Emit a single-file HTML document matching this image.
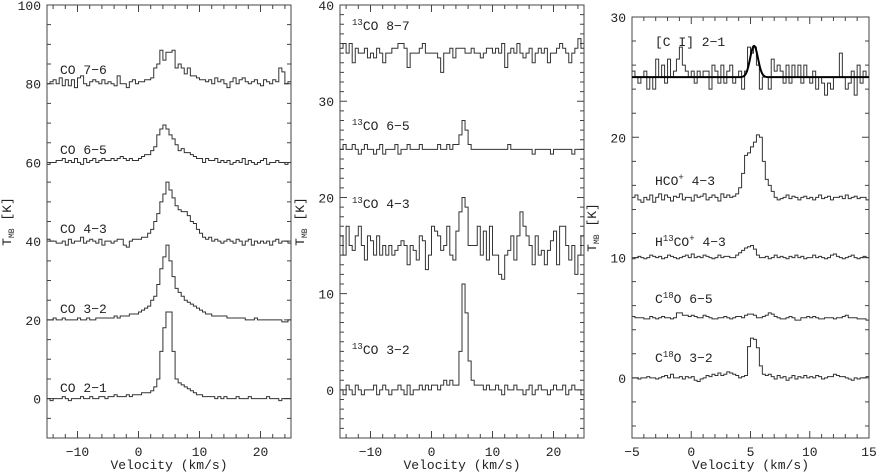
<!DOCTYPE html>
<html><head><meta charset="utf-8"><style>
html,body{margin:0;padding:0;background:#fff;}
svg{display:block;}
text{font-family:"Liberation Mono",monospace;fill:#222;}
</style></head><body>
<svg id="chart" width="876" height="473" viewBox="0 0 876 473" xmlns="http://www.w3.org/2000/svg"></svg>
<script>
// ---- Panel 1 data (CO), 0.5 km/s channels from -15 to 25 ----
const co76=[80,80.5,81,80,81.5,79.5,81,79.5,81,79, 81.5,82,80,79.5,80.5,81,80.5,80,81,80, 80.5,80,79.5,82,80,80,79,80.5,81,80, 80.5,80.5,81,81,81.5, 84,85,88.5,86,88, 88,88.5,84,85,84, 82.5,84,82,82,81.5, 81,81,80.5,81,80,81.5,80.5,81,80,79, 80.5,81.5,80,81,81.5,80.5,80,80.5,81,80, 79.5,81,80.5,80,81,80.5,84,83,80,80.5];
const co65=[59.5,60,60,60.5,60.5,61,60,60.5,60,61, 60,59.5,61,60,60.5,61,60,60.5,61,60.5, 60.5,61,60.5,61,61.5,61,60.5,61,60.5,60.5, 61,61.5,62,62,63, 64,67,68.5,69.5,68.5, 67,66,64.5,63,63.5, 62.5,62.5,62,61.5,61, 61,60,61,60.5,60.5,61,60,60.5,60,60.5, 59.5,60,60.5,60,61,59.5,60.5,60,59.5,60, 60.5,61,59.5,60,60,60.5,60,60,59.5,60];
const co43=[40.5,40,40,39.5,39.5,40,39,40.5,39.5,40, 40,41,39.5,40,40.5,40,39.5,40.5,39,40, 40,39.5,40,40.5,40.5,39,38.5,40,40.5,40.5, 40.5,41,41,42,43, 45,47,50,52,55, 53,51,49,48,47.5, 47.5,46.5,45,44.5,43, 42,41,40.5,41,40,40.5,40,39.5,40,40.5, 40,39.5,40.5,40,39,40,40.5,39,40,39.5, 40,39.5,40,39,40,40.5,39.5,40,40,39.5];
const co32=[20,20,20.5,20,20,20.5,20,20,20,20, 20.5,20,20,20.5,20,20,20.5,20.5,20.5,20.5, 20.5,20.5,21,20.5,21,21,21,21.5,21.5,21.5, 22,22.5,23,23.5,25, 26,29,33,36,39, 35,31,28,27,26, 25,24.5,24,23.5,23, 22.5,22,21.5,21.5,21,21,21,21,21,20.5, 20.5,20.5,20.5,20.5,20.5,20,20,20,20.5,20, 20,20,20,20,20,20,20,19.5,19.5,20];
const co21=[0,-0.5,0,0,0,0.5,0,-0.5,0,0, 0,0.5,0,0,0.5,0,0,0.5,0.5,0, 0.5,0.5,1,0.5,0.5,0.5,1,0.5,1,1, 1,1.5,1.5,1.5,2, 3,5,12,18,22, 22,12,5,4,3.5, 3,2.5,2,1.5,1, 1,0.5,0.5,0.5,0.5,0,0.5,0,0.5,0, 0,0,0.5,0,0,0,0.5,0,0,0, 0,0,0.5,0,0,0,-0.5,0,0,0];
// ---- Panel 2 data (13CO) ----
const c87=[35.5,36,35,36,34,35.5,35,35,35.5,34.5, 35,34.5,35.5,35,34,35,35,35.5,35.5,36, 36,35.5,33.5,35,35,35,35.5,36,35,35, 35,35,34.5,33,35,35,35.5,34.5,35.5,35.5, 35.5,35,35,35.5,35,35,34.5,35,35.5,35.5, 35,35.5,35,36,33.5,35,35.5,35,36,35, 34.5,35,35.5,34,35,35.5,35,35.5,34,35, 35,35.5,36,35.5,35,34,35,35.5,36.5,35.5];
const c65=[25,25.5,25,25,25.5,25,24.5,25,25.5,25, 25,24.5,25,25.5,24.5,25,25,25,25.5,24.5, 25,25,25.5,25,25,25,25.5,25,25,25, 25,25,25.5,25,25,25.5,25,25.5,25.5,26.5, 28,27,25.5,25,25,25,25,25,25,25, 25,25,25,25,25,25.5,25,25,25,25, 25,25,25,24.5,25,25,25,25,25,24.5, 25,25,25,25,25,25,24.5,25,25,25];
const c43=[16,14,17,15,14.5,16,17,15,13.5,16, 15.5,14,16,14,15,14,15,14,14.5,15, 15.5,15,13,15,14.5,13.5,16,15.5,12.5,14, 17,16.5,16,14.5,15,17,14,13.5,16.5,18.5, 20,19,15,15,15,17,14,16.5,13.5,17, 14,14,12,11.5,14,14.5,16,13.5,16,18.5, 17,16,15,13,16,14,14.5,13,14.5,15.5, 16.5,13,17,17,15,13.5,15,12,14,16];
const c32=[0,-0.5,0.5,0,-0.5,0.5,0,-0.5,0,0, 0,0.5,-0.5,0,0.5,0,-0.5,0,0,0.5, 0,-0.5,0.5,-0.5,0,0,0.5,0,0.5,0, 0.5,0.5,0,0.5,1,0.5,1,0.5,0.5,4, 11,8,3,1,0.5,0.5,0.5,0,0.5,0, 0,0.5,0,-0.5,0.5,0,0,0.5,0,0, -0.5,0,0.5,-0.5,0,0.5,0,0,-0.5,0, 0.5,0,0,0.5,-0.5,0,0.5,0,0,-0.5];
// ---- Panel 3 data, 0.25 km/s channels from -5 to 15 ----
const ci21=[25.5,25,24.5,25,25.5,24,25,24,26.5,25,26,24.5,26.5,25,25.5,26.5,27.5,26,25.5,25, 25.5,24.5,25.5,25,25.5,25.5,24,26,25.5,24.5,26,24.5,25.5,26,24.5,25,25.5,24,25.5,27.5, 27,27.5,26,24,25,25,24,26.5,25.5,26,25.5,24.5,26,24.5,26,25,26,24.5,26,25, 24.5,25.5,24,25,24.5,23.5,24.5,24,25,25,27,25,24,24.5,25.5,23.5,26,24.5,25.5,25];
const ciFit=[25,2.6,5.3,0.33]; // baseline, amplitude, center, sigma
const hco=[15,15.2,14.8,14.6,15,14.8,15.2,14.6,15,15.3,14.8,15.2,15,14.7,15.1,15,15.3,14.8,15,15, 14.7,15.2,15,15.1,15.3,14.8,15,15.2,15,14.7,15.3,15,15.2,15,15.1,15.3,15.8,17,18.5,18.7, 19.2,19.6,20.2,20,18,16.5,16,15.5,15,14.8,14.9,15,15.2,14.9,15.1,15,14.8,15,15.1,14.9, 15,14.8,15,15.2,14.9,15,15.1,14.8,15,15,15.1,14.9,15.2,14.9,15,15.1,14.9,15,15,14.8];
const h13co=[9.9,10,10.1,10,9.9,10,10.2,10.1,10,10.1,9.9,10,10.2,10.1,10,9.9,10,10.1,10.2,10, 10.3,10,10.1,10,10.2,10.1,10,9.9,10,10.2,10,10.1,10.1,10,10,10.2,10.4,10.6,10.8,10.9, 11,10.7,10.2,10,10,10.1,9.9,10,10.2,10,10.1,10,9.9,10.1,10,10.2,10,10.1,9.9,10, 10,10.2,10,10.1,10,9.9,10,10.2,10.3,10.1,10,9.9,10,10.1,10.2,10,9.9,10,10.1,10];
const c18o65=[5.1,5,5,5,4.9,4.9,5.1,5,4.9,5,5.1,5,5,4.9,5,5.4,5.4,5.2,5.2,5.1, 5.2,5.1,5,5,5.2,5.1,5,4.9,4.9,5,5,5.1,5,4.9,5,5.1,5.1,5,5.2,5.3, 5.3,5.2,5,5,5.1,5.2,5.4,5.3,5.1,5,4.9,4.9,5,5.1,5,4.8,4.8,5,5,5.1, 5,5.1,5,4.9,4.9,5,5,5,4.9,5,5,5.1,5.2,5,5,5,4.9,4.9,4.9,4.8];
const c18o32=[0,0,-0.1,0,0,0.1,0,0,-0.1,0,0.1,0.2,0,0.3,0,0,0.1,-0.1,0.1,0, 0.1,-0.2,-0.3,-0.1,0,0.2,0.1,0.3,0.2,0.4,0.2,0.3,0.5,0.4,0.3,0.2,0,0.1,0.2,2.6, 3.3,3.2,2.5,1,0.3,0.2,0.3,0.1,-0.1,0.2,0,0.1,-0.2,0,0.2,-0.1,0.1,0,0.2,0, 0.1,0,0.2,0.1,-0.1,0,0.1,0.1,0.3,0.2,0.1,0.1,0,-0.1,-0.2,0,-0.1,0,0,0.1];

const xTicks1=[-10,0,10,20], yTicks1=[0,20,40,60,80,100];
const xTicks2=[-10,0,10,20], yTicks2=[0,10,20,30,40];
const xTicks3=[-5,0,5,10,15], yTicks3=[0,10,20,30];

const NS='http://www.w3.org/2000/svg';
const svg=document.getElementById('chart');
function mk(tag,attrs,parent){const e=document.createElementNS(NS,tag);for(const k in attrs)e.setAttribute(k,attrs[k]);(parent||svg).appendChild(e);return e;}

function panel(id,box,xr,yr,xT,yT,xMinor,yMinor,series,labels){
  const g=mk('g',{});
  
  
  const sx=v=>box.l+(v-xr[0])/(xr[1]-xr[0])*(box.r-box.l);
  const sy=v=>box.b-(v-yr[0])/(yr[1]-yr[0])*(box.b-box.t);
  const fr=mk('rect',{x:box.l,y:box.t,width:box.r-box.l,height:box.b-box.t,fill:'none',stroke:'#444','stroke-width':1},g);
  
  
  let d='';
  for(let v=Math.ceil(xr[0]/xMinor)*xMinor;v<=xr[1]+1e-9;v+=xMinor){const x=sx(v);const big=xT.some(t=>Math.abs(t-v)<1e-9);const L=big?7:4;d+=`M${x} ${box.b}v${-L}M${x} ${box.t}v${L}`;}
  for(let v=Math.ceil(yr[0]/yMinor)*yMinor;v<=yr[1]+1e-9;v+=yMinor){const y=sy(v);const big=yT.some(t=>Math.abs(t-v)<1e-9);const L=big?7:4;d+=`M${box.l} ${y}h${L}M${box.r} ${y}h${-L}`;}
  const tk=mk('path',{d:d,stroke:'#444','stroke-width':1,fill:'none'},g);
  
  
  xT.forEach(v=>{const t=mk('text',{x:sx(v),y:box.b+18,'text-anchor':'middle','font-size':13},g);t.textContent=v<0?'\u2212'+(-v):String(v);
    
    });
  yT.forEach(v=>{const t=mk('text',{x:box.l-6,y:sy(v)+5,'text-anchor':'end','font-size':13},g);t.textContent=String(v);
    
    });
  const xt=mk('text',{x:(box.l+box.r)/2,y:469,'text-anchor':'middle','font-size':13},g);xt.textContent='Velocity (km/s)';
  
  
  const yx=box.l-36, yc=(box.t+box.b)/2;
  const yt=mk('text',{x:yx,y:yc,'text-anchor':'middle','font-size':13,transform:`rotate(-90 ${yx} ${yc})`},g);
  yt.innerHTML='T<tspan font-size="8" dy="3">MB</tspan><tspan dy="-3"> [K]</tspan>';
  
  
  series.forEach((s,i)=>{
    const n=s.vals.length, w=(xr[1]-xr[0])/n;
    let p='';
    s.vals.forEach((v,j)=>{const x0=sx(xr[0]+j*w),x1=sx(xr[0]+(j+1)*w),y=sy(v);p+=(j===0?`M${x0} ${y}`:`V${y}`)+`H${x1}`;});
    const pa=mk('path',{d:p,fill:'none',stroke:'#333','stroke-width':1},g);
    
    
    const lb=labels[i];
    const t=mk('text',{x:lb[0],y:lb[1],'font-size':13},g);
    t.innerHTML=lb[2];
    
    
  });
  return {g,sx,sy};
}

panel('panel-co',{l:47,r:291,t:5,b:438},[-15,25],[-10,100],xTicks1,yTicks1,2,5,
 [{name:'co-7-6',vals:co76},{name:'co-6-5',vals:co65},{name:'co-4-3',vals:co43},{name:'co-3-2',vals:co32},{name:'co-2-1',vals:co21}],
 [[60,74,'CO 7\u22126'],[60,154,'CO 6\u22125'],[60,233,'CO 4\u22123'],[60,313,'CO 3\u22122'],[60,392,'CO 2\u22121']]);

const sup=s=>`<tspan font-size="9" dy="-5">${s}</tspan><tspan dy="5">`;
panel('panel-13co',{l:340,r:584,t:5,b:438},[-15,25],[-5,40],xTicks2,yTicks2,2,1,
 [{name:'13co-8-7',vals:c87},{name:'13co-6-5',vals:c65},{name:'13co-4-3',vals:c43},{name:'13co-3-2',vals:c32}],
 [[352,30,sup('13')+'CO 8\u22127</tspan>'],[352,130,sup('13')+'CO 6\u22125</tspan>'],[352,208,sup('13')+'CO 4\u22123</tspan>'],[352,354,sup('13')+'CO 3\u22122</tspan>']]);

const p3=panel('panel-other',{l:632,r:869,t:17,b:438},[-5,15],[-5,30],xTicks3,yTicks3,1,2,
 [{name:'ci-2-1',vals:ci21},{name:'hco-plus-4-3',vals:hco},{name:'h13co-plus-4-3',vals:h13co},{name:'c18o-6-5',vals:c18o65},{name:'c18o-3-2',vals:c18o32}],
 [[655,46,'[C I] 2\u22121'],[655,185,'HCO<tspan font-size="9" dy="-5">+</tspan><tspan dy="5"> 4\u22123</tspan>'],[655,246,'H'+sup('13')+'CO</tspan><tspan font-size="9" dy="-5">+</tspan><tspan dy="5"> 4\u22123</tspan>'],[655,303,'C'+sup('18')+'O 6\u22125</tspan>'],[655,362,'C'+sup('18')+'O 3\u22122</tspan>']]);

// Gaussian fit over [C I]
let fd='';
for(let k=0;k<=400;k++){const v=-5+k*20/400;const y=ciFit[0]+ciFit[1]*Math.exp(-0.5*Math.pow((v-ciFit[2])/ciFit[3],2));fd+=(k?'L':'M')+p3.sx(v).toFixed(2)+' '+p3.sy(y).toFixed(2);}
const fit=mk('path',{d:fd,fill:'none',stroke:'#000','stroke-width':2},p3.g);


</script>
</body></html>
